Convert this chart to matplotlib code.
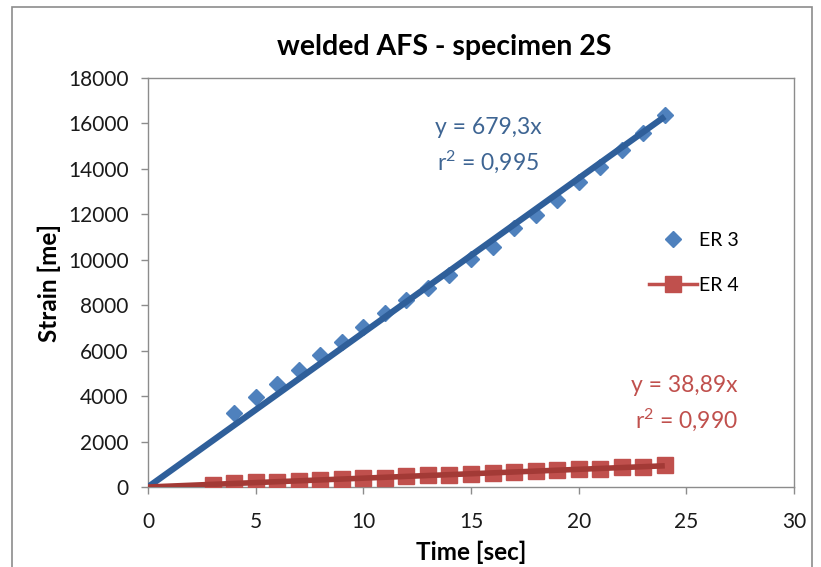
import numpy as np
import matplotlib
matplotlib.use("Agg")
import matplotlib.pyplot as plt
from matplotlib.patches import Rectangle
from matplotlib.lines import Line2D

plt.rcParams["font.family"] = ["Lato", "DejaVu Sans"]
plt.rcParams["mathtext.default"] = "regular"

# data
time_er3 = [4, 5, 6, 7, 8, 9, 10, 11, 12, 13, 14, 15, 16, 17, 18, 19, 20, 21, 22, 23, 24]
strain_er3 = [3250, 3950, 4550, 5150, 5800, 6400, 7050, 7650, 8230, 8750, 9330,
              10020, 10580, 11380, 11970, 12630, 13440, 14100, 14830, 15570, 16370]
time_er4 = [3, 4, 5, 6, 7, 8, 9, 10, 11, 12, 13, 14, 15, 16, 17, 18, 19, 20, 21, 22, 23, 24]
strain_er4 = [90, 160, 200, 230, 280, 310, 340, 380, 410, 480, 530, 530,
              560, 630, 650, 700, 750, 780, 790, 870, 890, 970]
slope_er3, r2_er3 = 679.3, 0.995
slope_er4, r2_er4 = 38.89, 0.990
fit_range = [0, 24]

BLUE = "#4F81BD"
BLUE_FIT = "#2F5F9A"
RED = "#C0504D"
RED_FIT = "#A33A36"

fig = plt.figure(figsize=(8.21, 5.67), dpi=100)
fig.patches.append(Rectangle((12 / 821, -0.05), 800 / 821, 1.05 - 7 / 567,
                             transform=fig.transFigure, fill=False,
                             edgecolor="#8C8C8C", lw=1.2, zorder=0))
ax = fig.add_axes([148 / 821, 80 / 567, 646 / 821, 409 / 567])

ax.plot(time_er3, strain_er3, ls="none", marker="D", ms=8.5, color=BLUE,
        zorder=3, label="ER 3")
ax.plot(time_er4, strain_er4, ls="-", lw=2.5, marker="s", ms=12, color=RED,
        zorder=3, label="ER 4")

xf = np.array(fit_range, dtype=float)
ax.plot(xf, slope_er3 * xf, color=BLUE_FIT, lw=4.5, zorder=4, solid_capstyle="butt")
ax.plot(xf, slope_er4 * xf, color=RED_FIT, lw=4, zorder=4, solid_capstyle="butt")

eq_kw = dict(fontsize=16.5, ha="center", va="center")
ax.text(15.8, 15800, f"y = {slope_er3:.1f}x".replace(".", ","), color="#3E6593", **eq_kw)
ax.text(15.8, 14300, "r$^{2}$ = " + f"{r2_er3:.3f}".replace(".", ","), color="#3E6593", **eq_kw)
ax.text(24.9, 4450, f"y = {slope_er4:.2f}x".replace(".", ","), color=RED, **eq_kw)
ax.text(25.0, 2950, "r$^{2}$ = " + f"{r2_er4:.3f}".replace(".", ","), color=RED, **eq_kw)

ax.set_xlim(0, 30)
ax.set_ylim(0, 18000)
ax.set_xticks(range(0, 31, 5))
ax.set_yticks(range(0, 18001, 2000))
ax.tick_params(direction="out", length=5, width=1, color="#8C8C8C",
               labelsize=15, labelcolor="#1A1A1A")
ax.tick_params(axis="x", pad=13)
ax.tick_params(axis="y", pad=9)
for s in ax.spines.values():
    s.set_color("#8C8C8C")
    s.set_linewidth(1)

ax.set_xlabel("Time [sec]", fontsize=17.5, fontweight="bold", labelpad=6)
ax.set_ylabel("Strain [me]", fontsize=17.5, fontweight="bold", labelpad=5)
fig.text(444 / 821, 1 - 47 / 567, "welded AFS - specimen 2S", fontsize=20.5,
         fontweight="bold", ha="center", va="center")

handles = [Line2D([], [], ls="none", marker="D", ms=8.5, color=BLUE),
           Line2D([], [], ls="-", lw=2.5, marker="s", ms=12, color=RED)]
ax.legend(handles, ["ER 3", "ER 4"], loc="center left",
          bbox_to_anchor=(0.748, 0.548), frameon=False, fontsize=14,
          handlelength=2.5, handletextpad=0.1, labelspacing=1.45)

fig.savefig("out.png", dpi=100)
